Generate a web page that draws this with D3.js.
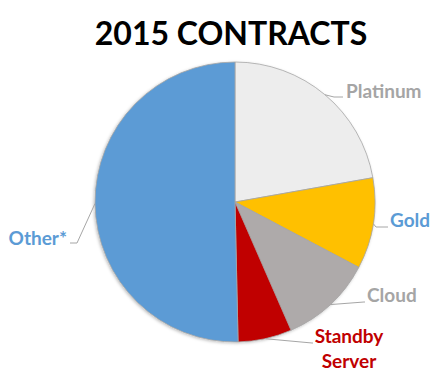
<!DOCTYPE html>
<html>
<head>
<meta charset="utf-8">
<script src="https://cdn.jsdelivr.net/npm/d3@7"></script>
<style>
    html, body { margin: 0; padding: 0; background: #fff; }
    svg { display: block; }
</style>
</head>
<body>
<svg id="chart" width="447" height="377"></svg>
<script>
// data (share of contracts, %)
const categories = ["Platinum", "Gold", "Cloud", "Standby Server", "Other*"];
const shares = [22.2, 10.5, 10.7, 6.2, 50.3];
const sliceColors = ["#ededed", "#ffc000", "#aeaaaa", "#c00000", "#5b9bd5"];
const labelColors = ["#a5a5a5", "#5b9bd5", "#a5a5a5", "#c00000", "#5b9bd5"];

const width = 447, height = 377;
const center = { x: 235, y: 202 };
const radius = 140;

// label placement: elbow / end of leader line, text anchor
const labelLayout = [
    { elbow: [334, 97], end: [343, 97], text: [346, 98], anchor: "start" },
    { elbow: [376, 227], end: [388, 227], text: [390, 227], anchor: "start" },
    { elbow: [364, 302], end: [365, 302], text: [367, 302], anchor: "start" },
    { elbow: [312, 343], end: [313, 343], text: [349, 343], anchor: "middle" },
    { elbow: [77, 243], end: [70, 243], text: [67, 245], anchor: "end" }
];

const canvas = d3.select("#chart");

canvas.append("text")
    .text("2015 CONTRACTS")
    .attr("x", 231)
    .attr("y", 45)
    .attr("text-anchor", "middle")
    .attr("font-family", "Lato, 'Open Sans', sans-serif")
    .attr("font-weight", "bold")
    .attr("font-size", 32)
    .attr("fill", "#000");

const defs = canvas.append("defs");
defs.append("filter")
    .attr("id", "shadow")
    .attr("x", "-10%").attr("y", "-10%")
    .attr("width", "120%").attr("height", "120%")
    .append("feDropShadow")
    .attr("dx", -1).attr("dy", 1)
    .attr("stdDeviation", 1.5)
    .attr("flood-color", "#000")
    .attr("flood-opacity", 0.25);

const pie = d3.pie().sort(null).value(d => d);
const arcPath = d3.arc().innerRadius(0).outerRadius(radius);
const arcs = pie(shares);

const graph = canvas.append("g")
    .attr("transform", `translate(${center.x}, ${center.y})`);

graph.append("g")
    .attr("filter", "url(#shadow)")
    .selectAll("path")
    .data(arcs)
    .enter()
    .append("path")
    .attr("d", arcPath)
    .attr("fill", (d, i) => sliceColors[i])
    .attr("stroke", "#a6a6a6")
    .attr("stroke-width", 0.8);

// leader lines start on the rim at the middle of each slice
const rim = d => {
    const a = (d.startAngle + d.endAngle) / 2;
    return [center.x + radius * Math.sin(a), center.y - radius * Math.cos(a)];
};

canvas.append("g")
    .selectAll("polyline")
    .data(arcs)
    .enter()
    .append("polyline")
    .attr("points", (d, i) => [rim(d), labelLayout[i].elbow, labelLayout[i].end].map(p => p.join(",")).join(" "))
    .attr("fill", "none")
    .attr("stroke", "#a6a6a6")
    .attr("stroke-width", 1);

const labels = canvas.append("g")
    .attr("font-family", "Lato, 'Open Sans', sans-serif")
    .attr("font-weight", "bold")
    .attr("font-size", 19);

categories.forEach((name, i) => {
    const lay = labelLayout[i];
    const t = labels.append("text")
        .attr("x", lay.text[0])
        .attr("y", lay.text[1])
        .attr("text-anchor", lay.anchor)
        .attr("fill", labelColors[i]);
    name.split(" ").forEach((word, j) => {
        t.append("tspan")
            .attr("x", lay.text[0])
            .attr("dy", j === 0 ? 0 : 25)
            .text(word);
    });
});
</script>
</body>
</html>
